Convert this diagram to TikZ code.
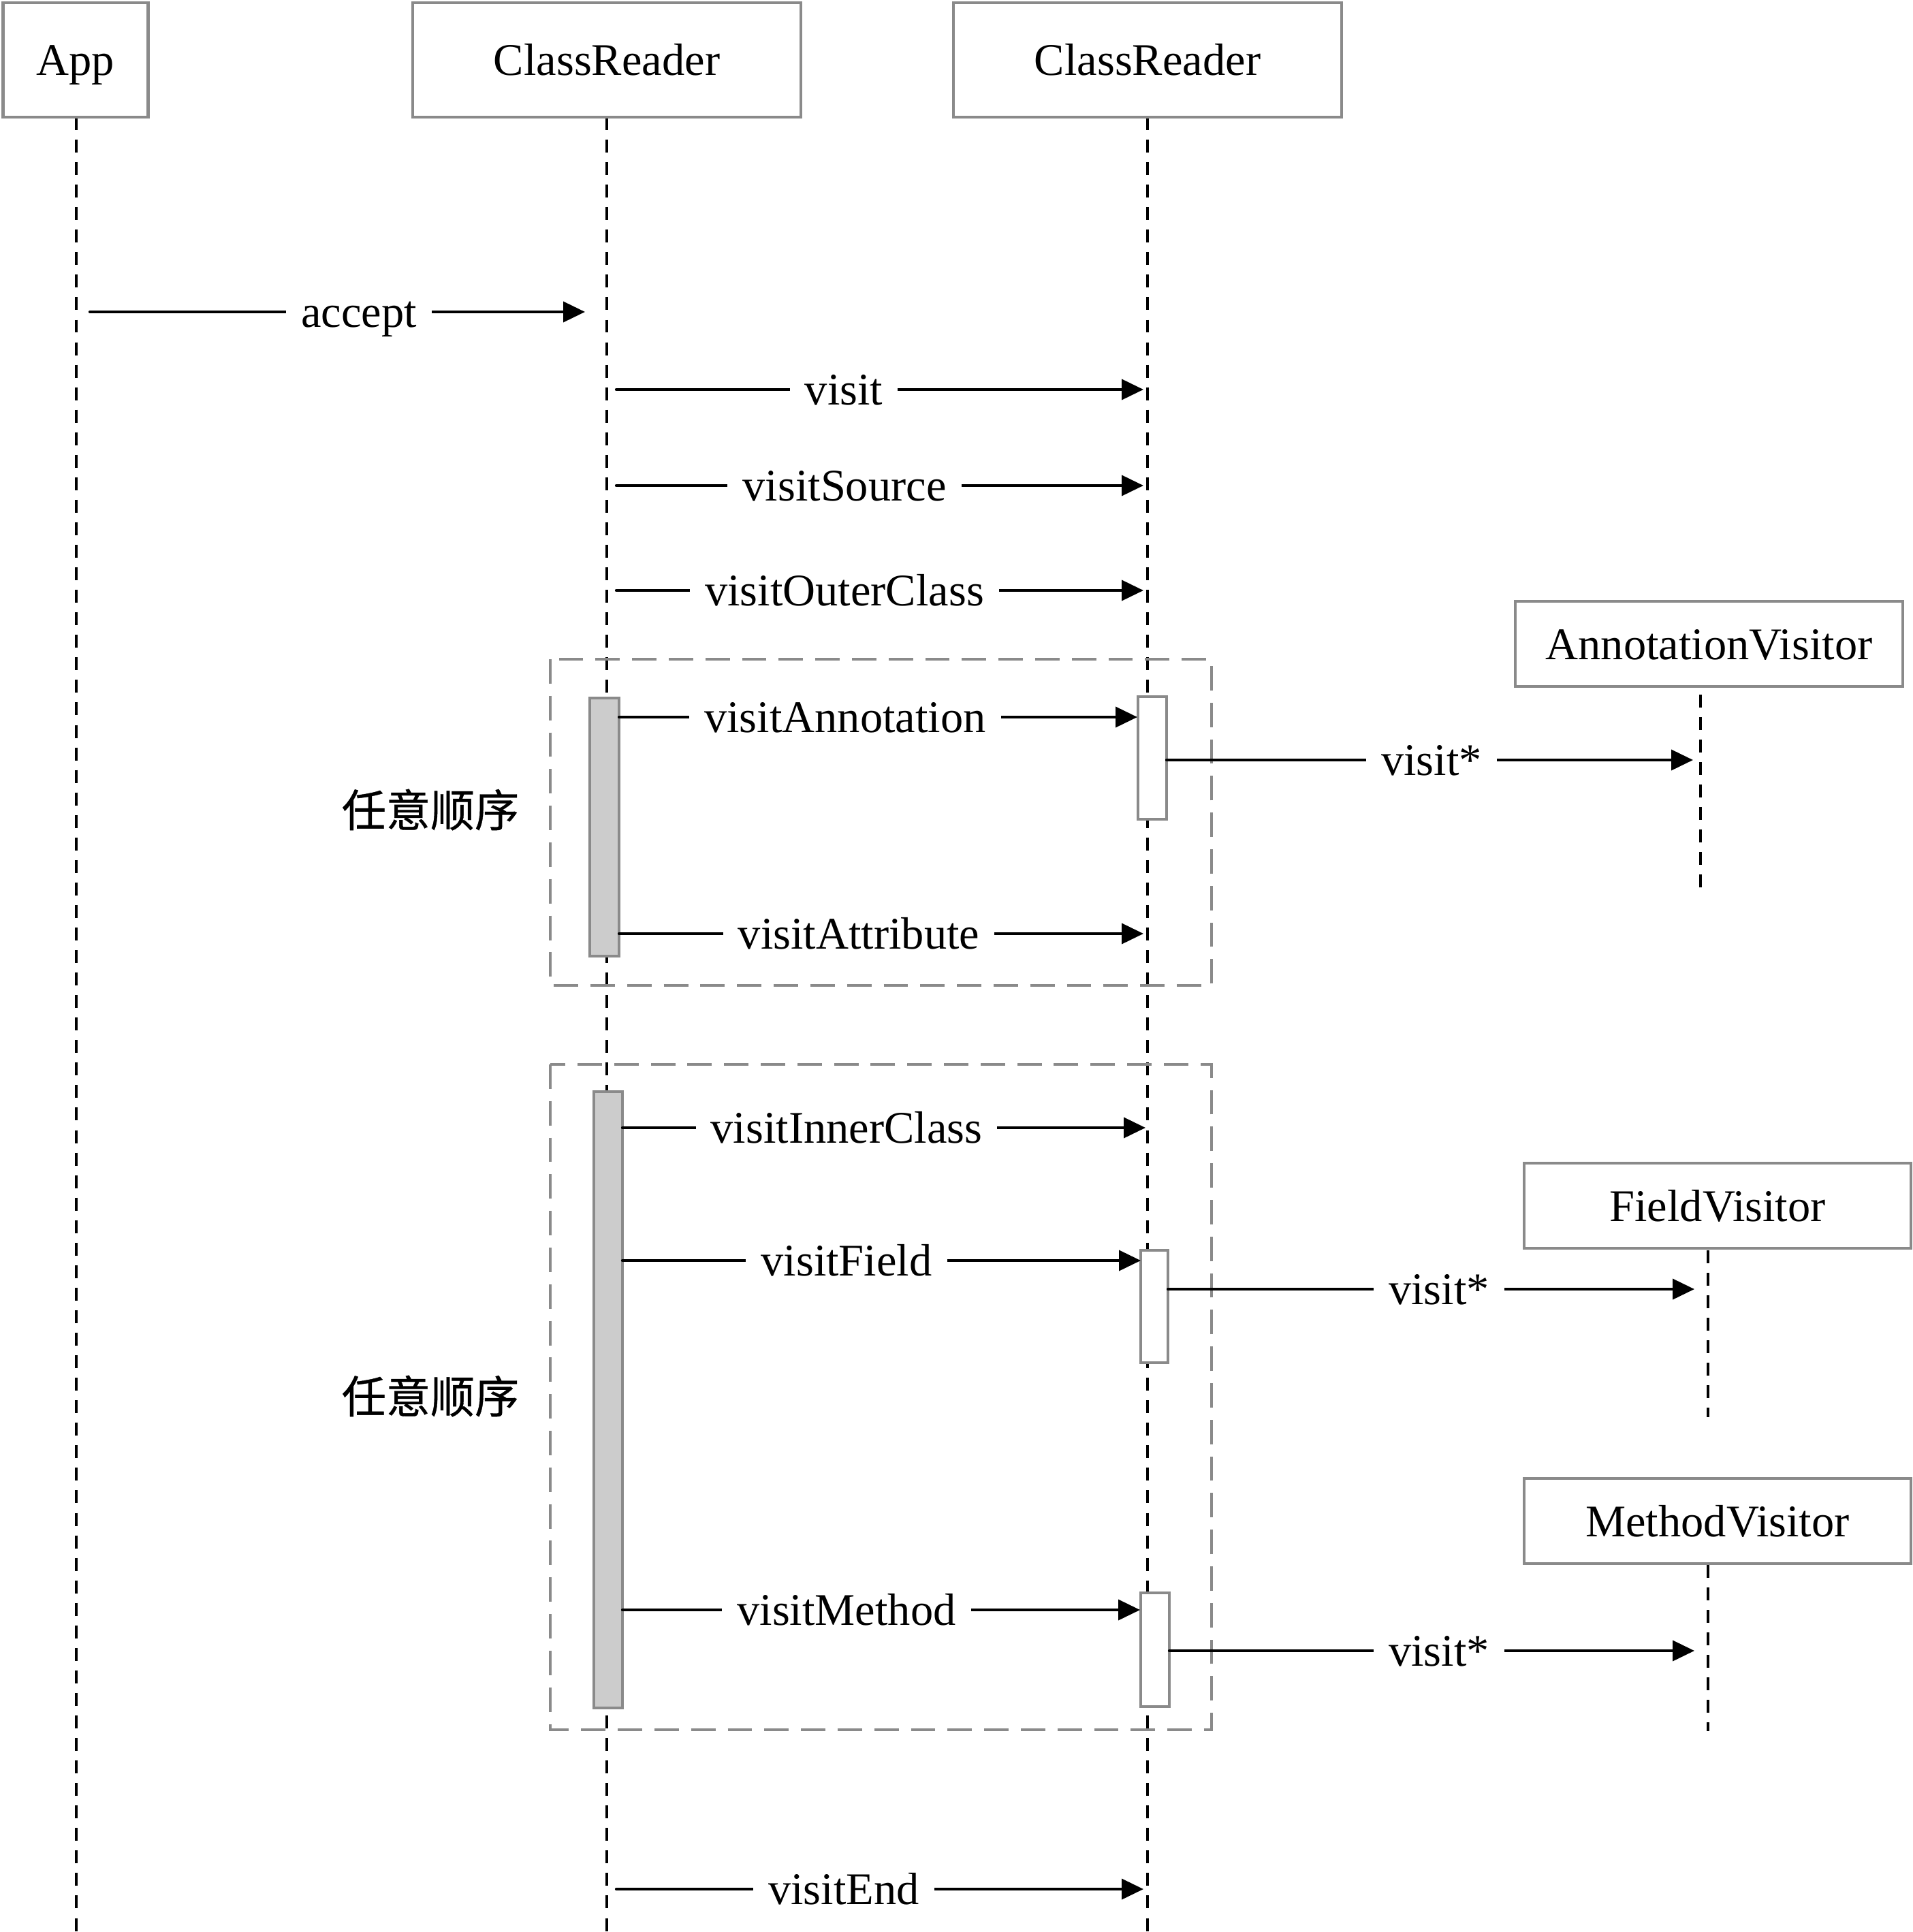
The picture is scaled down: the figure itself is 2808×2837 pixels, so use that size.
\documentclass[tikz,border=0pt]{standalone}
\usepackage{fontspec}
\setmainfont{Liberation Serif}
\newfontfamily\cjk[FakeBold=0.6]{Noto Sans CJK SC}
\usetikzlibrary{arrows.meta}
\definecolor{bordergray}{RGB}{138,138,138}
\definecolor{actgray}{RGB}{204,204,204}
\begin{document}
\begin{tikzpicture}[x=0.01cm,y=-0.01cm,
  txt/.style={font=\fontsize{18.9pt}{22pt}\selectfont, text height=0.45cm, text depth=0pt},
  hdr/.style={txt, draw=bordergray, line width=1.2pt, fill=white, inner sep=0pt},
  life/.style={line width=1.1pt, dash pattern=on 5.4pt off 4pt},
  msg/.style={line width=1.2pt, line cap=round, -{Triangle[length=9.1pt,width=8.5pt]}},
  lbl/.style={txt, fill=white, inner xsep=0.22cm, inner ysep=0pt},
  grp/.style={draw=bordergray, line width=1.1pt, dash pattern=on 10.2pt off 5.1pt},
  actg/.style={draw=bordergray, fill=actgray, line width=1.2pt},
  actw/.style={draw=bordergray, fill=white, line width=1.2pt},
  cjklbl/.style={font=\cjk\fontsize{18.5pt}{22pt}\selectfont, inner sep=0pt}
]
\useasboundingbox[fill=white] (0,0) rectangle (2808,2837);

% lifeline end points
\coordinate (app-t) at (112,172);  \coordinate (app-b) at (112,2837);
\coordinate (cr1-t) at (891,172);  \coordinate (cr1-b) at (891,2837);
\coordinate (cr2-t) at (1685,172); \coordinate (cr2-b) at (1685,2837);
\coordinate (av-t) at (2497,1020); \coordinate (av-b) at (2497,1305);
\coordinate (fv-t) at (2508,1836); \coordinate (fv-b) at (2508,2081);
\coordinate (mv-t) at (2508,2298); \coordinate (mv-b) at (2508,2542);

\draw[life] (app-t) -- (app-b);
\draw[life] (cr1-t) -- (cr1-b);
\draw[life] (cr2-t) -- (cr2-b);
\draw[life] (av-t) -- (av-b);
\draw[life] (fv-t) -- (fv-b);
\draw[life] (mv-t) -- (mv-b);

% group frames
\draw[grp] (808,968) rectangle (1779,1447);
\draw[grp] (808,1563) rectangle (1779,2540);

% activation bars
\draw[actg] (866,1025) rectangle (909,1404);
\draw[actw] (1671,1023) rectangle (1713,1203);
\draw[actg] (872,1603) rectangle (914,2508);
\draw[actw] (1675,1836) rectangle (1715,2001);
\draw[actw] (1675,2339) rectangle (1717,2506);

% header boxes
\node[hdr, minimum width=2.13cm, minimum height=1.68cm] (app) at (111,88) {App};
\node[hdr, minimum width=5.70cm, minimum height=1.68cm] (cr1) at (891,88) {ClassReader};
\node[hdr, minimum width=5.69cm, minimum height=1.68cm] (cr2) at (1685,88) {ClassReader};
\node[hdr, minimum width=5.69cm, minimum height=1.25cm] (av) at (2509.5,945.5) {AnnotationVisitor};
\node[hdr, minimum width=5.68cm, minimum height=1.25cm] (fv) at (2522,1770.5) {FieldVisitor};
\node[hdr, minimum width=5.68cm, minimum height=1.25cm] (mv) at (2522,2233.5) {MethodVisitor};

% messages
\coordinate (m1s) at (132,458);   \coordinate (m1e) at (859,458);
\draw[msg] (m1s) -- (m1e);   \node[lbl] (m1l) at (527,458) {accept};
\coordinate (m2s) at (905,572);   \coordinate (m2e) at (1679,572);
\draw[msg] (m2s) -- (m2e);   \node[lbl] (m2l) at (1239,572) {visit};
\coordinate (m3s) at (905,713);   \coordinate (m3e) at (1679,713);
\draw[msg] (m3s) -- (m3e);   \node[lbl] (m3l) at (1240,713) {visitSource};
\coordinate (m4s) at (905,867);   \coordinate (m4e) at (1679,867);
\draw[msg] (m4s) -- (m4e);   \node[lbl] (m4l) at (1240,867) {visitOuterClass};
\coordinate (m5s) at (909,1053);  \coordinate (m5e) at (1670,1053);
\draw[msg] (m5s) -- (m5e);   \node[lbl] (m5l) at (1241,1053) {visitAnnotation};
\coordinate (m6s) at (1713,1116); \coordinate (m6e) at (2486,1116);
\draw[msg] (m6s) -- (m6e);   \node[lbl] (m6l) at (2102,1116) {visit*};
\coordinate (m7s) at (909,1371);  \coordinate (m7e) at (1679,1371);
\draw[msg] (m7s) -- (m7e);   \node[lbl] (m7l) at (1261,1371) {visitAttribute};
\coordinate (m8s) at (914,1656);  \coordinate (m8e) at (1682,1656);
\draw[msg] (m8s) -- (m8e);   \node[lbl] (m8l) at (1243,1656) {visitInnerClass};
\coordinate (m9s) at (914,1851);  \coordinate (m9e) at (1675,1851);
\draw[msg] (m9s) -- (m9e);   \node[lbl] (m9l) at (1243,1851) {visitField};
\coordinate (m10s) at (1715,1893); \coordinate (m10e) at (2488,1893);
\draw[msg] (m10s) -- (m10e); \node[lbl] (m10l) at (2113,1893) {visit*};
\coordinate (m11s) at (914,2364); \coordinate (m11e) at (1674,2364);
\draw[msg] (m11s) -- (m11e); \node[lbl] (m11l) at (1243,2364) {visitMethod};
\coordinate (m12s) at (1717,2424); \coordinate (m12e) at (2488,2424);
\draw[msg] (m12s) -- (m12e); \node[lbl] (m12l) at (2113,2424) {visit*};
\coordinate (m13s) at (905,2774); \coordinate (m13e) at (1679,2774);
\draw[msg] (m13s) -- (m13e); \node[lbl] (m13l) at (1239,2774) {visitEnd};

% group labels
\node[cjklbl] (ord1) at (632,1189) {任意顺序};
\node[cjklbl] (ord2) at (632,2050) {任意顺序};
\end{tikzpicture}
\end{document}
